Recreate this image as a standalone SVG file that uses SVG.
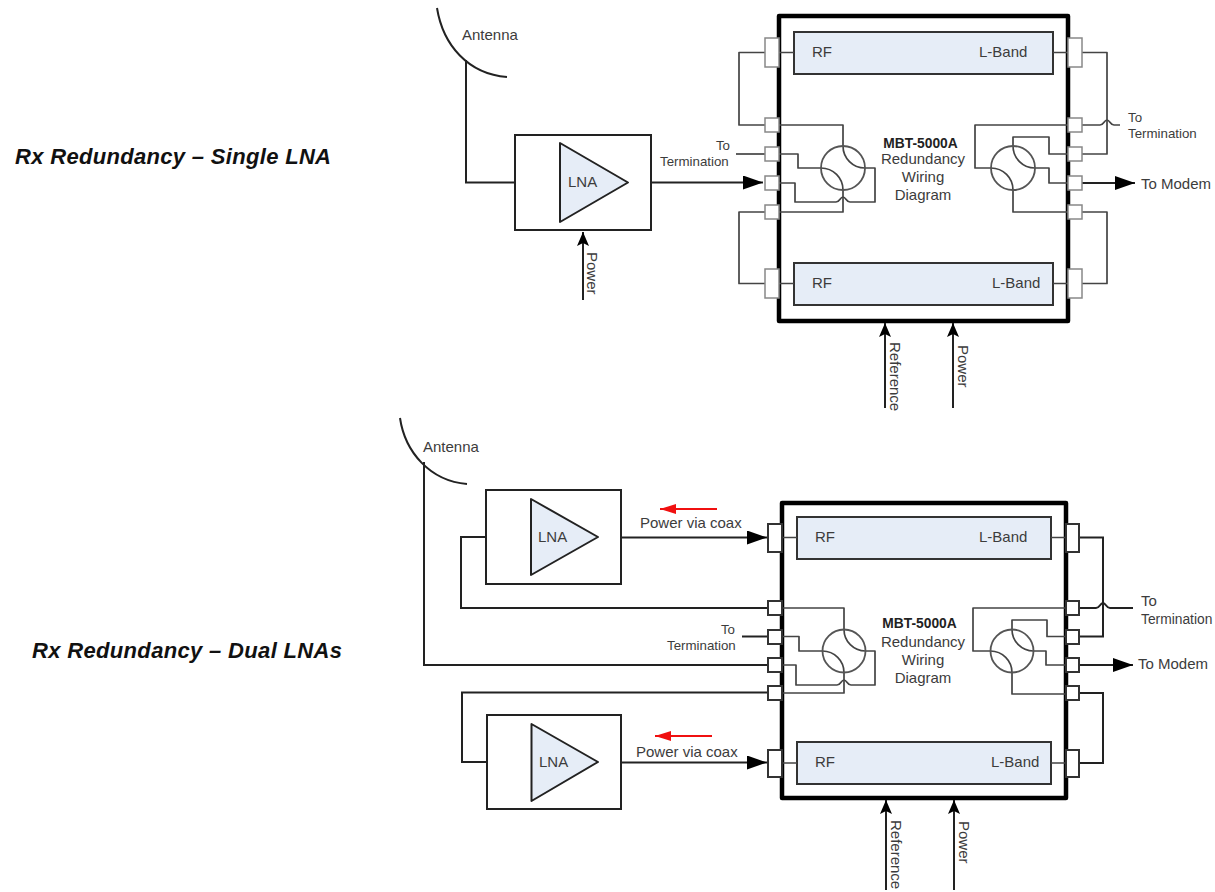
<svg xmlns="http://www.w3.org/2000/svg" width="1215" height="892" viewBox="0 0 1215 892">
<style>
text{font-family:"Liberation Sans",Arial,sans-serif;fill:#3c3c3c;font-size:15px}
.title{font-weight:bold;font-style:italic;font-size:22px;fill:#111}
.mbt{font-weight:bold;font-size:13.8px;fill:#222}
.m{text-anchor:middle}
.small{font-size:13.3px}
.w{fill:none;stroke:#444;stroke-width:1.7;stroke-linejoin:round}
.k{fill:none;stroke:#222;stroke-width:2}
.body{fill:#fff;stroke:#000;stroke-width:4.5;stroke-linejoin:round}
.bar{fill:#e6edf7;stroke:#333;stroke-width:2}
.tri{fill:#e6edf7;stroke:#222;stroke-width:2;stroke-linejoin:round}
.box{fill:#fff;stroke:#222;stroke-width:2}
.p1{fill:#fff;stroke:#888;stroke-width:1.5}
.p2{fill:#fff;stroke:#333;stroke-width:2}
.sw{fill:none;stroke:#555;stroke-width:1.8}
.red{fill:none;stroke:#f01010;stroke-width:2}
</style>
<defs>
<marker id="big" markerUnits="userSpaceOnUse" markerWidth="20" markerHeight="14" refX="20" refY="7" orient="auto"><path d="M0,0L20,7L0,14Z" fill="#000"/></marker>
<marker id="up" markerUnits="userSpaceOnUse" markerWidth="14" markerHeight="14" refX="14" refY="6" orient="auto"><path d="M0,0L14,6L0,12L3,6Z" fill="#000"/></marker>
<marker id="redh" markerUnits="userSpaceOnUse" markerWidth="16" markerHeight="10" refX="16" refY="5" orient="auto"><path d="M0,0L16,5L0,10Z" fill="#f01010"/></marker>
</defs>
<rect width="1215" height="892" fill="#fff"/>

<text class="title" x="15" y="164" textLength="316">Rx Redundancy – Single LNA</text>
<text class="title" x="32" y="658" textLength="310">Rx Redundancy – Dual LNAs</text>

<g id="unit-top">
<rect class="body" x="779" y="16" width="289" height="305"/>
<rect class="bar" x="794" y="32" width="259" height="42"/>
<rect class="bar" x="794" y="263" width="259" height="42"/>
<text x="812" y="57">RF</text><text x="979" y="57">L-Band</text>
<text x="812" y="288">RF</text><text x="992" y="288">L-Band</text>
<text class="mbt m" x="920.500" y="148">MBT-5000A</text>
<text class="m" x="923" y="164">Redundancy</text>
<text class="m" x="923" y="182">Wiring</text>
<text class="m" x="923" y="200">Diagram</text>
</g>
<g id="unit-bottom">
<rect class="body" x="782" y="503" width="284" height="295"/>
<rect class="bar" x="797" y="517" width="254" height="42"/>
<rect class="bar" x="797" y="742" width="254" height="42"/>
<text x="815" y="542">RF</text><text x="979" y="542">L-Band</text>
<text x="815" y="767">RF</text><text x="991" y="767">L-Band</text>
<text class="mbt m" x="919.500" y="628">MBT-5000A</text>
<text class="m" x="923" y="647">Redundancy</text>
<text class="m" x="923" y="665">Wiring</text>
<text class="m" x="923" y="683">Diagram</text>
</g>

<g id="connectors">
<path class="w" d="M765,52.500H739V125H765M765,212H739V283.500H765M779,52.500H794M779,283.500H794"/>
<path class="w" d="M779,125H843V146A22,22 0 0 0 865,168H875V202H850C846,202 846,197 843,197C840,197 840,202 836,202H795V183H779"/>
<path class="w" d="M779,154H798V168H821A22,22 0 0 1 843,190V212H779"/>
<path class="w" d="M1053,52.500H1068M1053,283.500H1068M1082,52.500H1107V154H1082M1082,212H1107V283.500H1082"/>
<path class="w" d="M1082,125H1100C1104,125 1104,120 1107,120C1110,120 1110,125 1114,125H1120"/>
<path class="w" d="M1068,125H975V168H991A22,22 0 0 1 1013,190V212H1068"/>
<path class="w" d="M1068,154H1049V137H1013V146A22,22 0 0 0 1035,168H1049V183H1068"/>
<path class="w" d="M736,154H765"/>
<path class="k" d="M651,182.500H763" marker-end="url(#big)"/>
<path class="k" d="M1082,183H1135" marker-end="url(#big)"/>
<path class="k" d="M466,60V182.500H515"/>
<path class="k" d="M583,300V232" marker-end="url(#up)"/>
<path class="k" d="M885,408V323" marker-end="url(#up)"/>
<path class="k" d="M953,408V323" marker-end="url(#up)"/>
<path class="w" d="M782,537.500H797M782,763H797M1051,537.500H1066M1051,763H1066"/>
<path class="w" d="M782,608H844V629.500A21.500,21.500 0 0 0 865.500,651H875V685H851C847,685 847,680 844,680C841,680 841,685 837,685H796V665H782"/>
<path class="w" d="M782,636.500H799V651H822.500A21.500,21.500 0 0 1 844,672.500V693H782"/>
<path class="w" d="M1066,608H973V651H990.500A21.500,21.500 0 0 1 1012,672.500V694H1066"/>
<path class="w" d="M1066,636.500H1047V620H1012V629.500A21.500,21.500 0 0 0 1033.500,651H1046V665H1066"/>
<path class="k" d="M1079,537.500H1103V636.500H1079M1079,693H1103V763H1079"/>
<path class="k" d="M1079,608H1096C1100,608 1100,603 1103,603C1106,603 1106,608 1110,608H1133"/>
<path class="k" d="M1079,665H1133" marker-end="url(#big)"/>
<path class="k" d="M742,636.500H768"/>
<path class="k" d="M621,537.500H767" marker-end="url(#big)"/>
<path class="k" d="M621,762.500H767" marker-end="url(#big)"/>
<path class="k" d="M424,462V665H768"/>
<path class="k" d="M486,537H461V608H768"/>
<path class="k" d="M487,762H462V692.500H768"/>
<path class="k" d="M886,890V800" marker-end="url(#up)"/>
<path class="k" d="M954,890V800" marker-end="url(#up)"/>
<path class="red" d="M717,509H660" marker-end="url(#redh)"/>
<path class="red" d="M712,736H655" marker-end="url(#redh)"/>
</g>

<g id="switches">
<circle class="sw" cx="843" cy="168" r="22"/>
<circle class="sw" cx="1013" cy="168" r="22"/>
<circle class="sw" cx="844" cy="651" r="21.500"/>
<circle class="sw" cx="1012" cy="651" r="21.500"/>
</g>

<g id="ports-top">
<rect class="p1" x="765" y="38" width="14" height="29"/><rect class="p1" x="765" y="118" width="14" height="14"/><rect class="p1" x="765" y="147" width="14" height="14"/><rect class="p1" x="765" y="176" width="14" height="14"/><rect class="p1" x="765" y="205" width="14" height="14"/><rect class="p1" x="765" y="269" width="14" height="29"/>
<rect class="p1" x="1068" y="38" width="14" height="29"/><rect class="p1" x="1068" y="118" width="14" height="14"/><rect class="p1" x="1068" y="147" width="14" height="14"/><rect class="p1" x="1068" y="176" width="14" height="14"/><rect class="p1" x="1068" y="205" width="14" height="14"/><rect class="p1" x="1068" y="269" width="14" height="29"/>
</g>
<g id="ports-bottom">
<rect class="p2" x="768" y="524" width="14" height="28"/><rect class="p2" x="768" y="601" width="14" height="14"/><rect class="p2" x="768" y="630" width="14" height="14"/><rect class="p2" x="768" y="658" width="14" height="14"/><rect class="p2" x="768" y="686" width="14" height="14"/><rect class="p2" x="768" y="750" width="14" height="27"/>
<rect class="p2" x="1066" y="524" width="13" height="28"/><rect class="p2" x="1066" y="601" width="13" height="14"/><rect class="p2" x="1066" y="630" width="13" height="14"/><rect class="p2" x="1066" y="658" width="13" height="14"/><rect class="p2" x="1066" y="686" width="13" height="14"/><rect class="p2" x="1066" y="750" width="13" height="27"/>
</g>

<g id="antenna-top"><path class="k" d="M437,8C443,45 468,74 507,77"/><text x="462" y="40">Antenna</text></g>
<g id="antenna-bottom"><path class="k" d="M400,418C405,452 430,481 467,484"/><text x="423" y="452">Antenna</text></g>

<g id="lna-top"><rect class="box" x="515" y="135" width="136" height="95"/><path class="tri" d="M560,143V222L628,182.500Z"/><text x="568" y="187">LNA</text></g>
<g id="lna-1"><rect class="box" x="486" y="490" width="135" height="94"/><path class="tri" d="M531,499V575L598,537Z"/><text x="538" y="542">LNA</text></g>
<g id="lna-2"><rect class="box" x="487" y="715" width="134" height="94"/><path class="tri" d="M531.500,724V801L598,762Z"/><text x="539" y="767">LNA</text></g>

<g id="labels">
<text class="small m" x="723" y="150">To</text>
<text class="small" x="660" y="166">Termination</text>
<text class="small" x="1128" y="122">To</text>
<text class="small" x="1128" y="138">Termination</text>
<text x="1141" y="189">To Modem</text>
<text class="small m" x="728" y="634">To</text>
<text class="small" x="667" y="650">Termination</text>
<text x="1141" y="606">To</text>
<text style="font-size:13.8px" x="1141" y="624">Termination</text>
<text x="1138" y="669">To Modem</text>
<text x="640" y="528">Power via coax</text>
<text x="636" y="757">Power via coax</text>
<text transform="translate(587,252) rotate(90)">Power</text>
<text transform="translate(890,342) rotate(90)">Reference</text>
<text transform="translate(958,345) rotate(90)">Power</text>
<text transform="translate(891,820) rotate(90)">Reference</text>
<text transform="translate(959,821) rotate(90)">Power</text>
</g>
</svg>
